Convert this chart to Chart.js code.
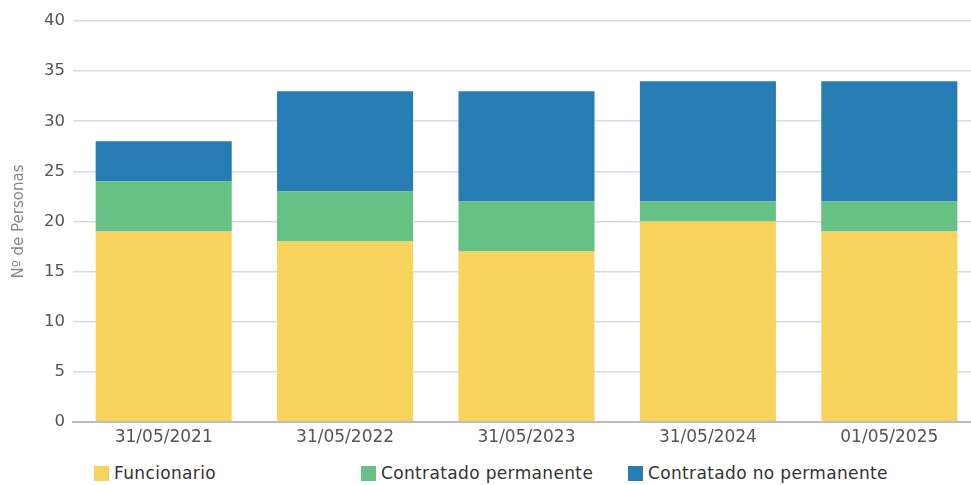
<!DOCTYPE html>
<html>
<head>
<meta charset="utf-8">
<script src="https://cdn.jsdelivr.net/npm/chart.js@4"></script>
<style>
  html, body { margin: 0; padding: 0; background: #fff; overflow: hidden; }
  #wrap { position: relative; width: 981px; height: 485px; }
  #chartBox { position: absolute; left: 0; top: 0; width: 981px; height: 455px; }
  #legend { position: absolute; left: 94px; top: 463px; display: flex; font-family: "DejaVu Sans", sans-serif; font-size: 17px; letter-spacing: 0.35px; color: #333; }
  #legend .item { width: 267px; display: flex; align-items: center; white-space: nowrap; }
  #legend .box { width: 15px; height: 15px; margin-right: 5px; }
</style>
</head>
<body>
<div id="wrap">
  <div id="chartBox"><canvas id="chart"></canvas></div>
  <div id="legend"></div>
</div>
<script>
(function () {
  "use strict";

  var categories = ["31/05/2021", "31/05/2022", "31/05/2023", "31/05/2024", "01/05/2025"];
  var funcionario = [19, 18, 17, 20, 19];
  var contratadoPermanente = [5, 5, 5, 2, 3];
  var contratadoNoPermanente = [4, 10, 11, 12, 12];
  var yTicks = [0, 5, 10, 15, 20, 25, 30, 35, 40];

  var FONT = "'DejaVu Sans', sans-serif";

  function makeSet(label, data, color) {
    return {
      label: label,
      data: data,
      backgroundColor: color,
      borderWidth: 0,
      barPercentage: 0.75,
      categoryPercentage: 1
    };
  }

  var chart = new Chart(document.getElementById("chart"), {
    type: "bar",
    data: {
      labels: categories,
      datasets: [
        makeSet("Funcionario", funcionario, "#f8d35e"),
        makeSet("Contratado permanente", contratadoPermanente, "#66c184"),
        makeSet("Contratado no permanente", contratadoNoPermanente, "#267cb3")
      ]
    },
    options: {
      responsive: true,
      maintainAspectRatio: false,
      animation: false,
      layout: { padding: { top: 21, right: 1, left: 0, bottom: 0 } },
      plugins: {
        legend: { display: false },
        tooltip: { enabled: false }
      },
      scales: {
        x: {
          stacked: true,
          grid: { display: false, drawTicks: false },
          border: { display: true, color: "#bcbcbc", width: 2, z: 1 },
          ticks: { color: "#555", font: { family: FONT, size: 17 }, padding: 5, maxRotation: 0 },
          afterFit: function (axis) { axis.height = 33; }
        },
        y: {
          stacked: true,
          min: 0,
          max: 40,
          afterBuildTicks: function (axis) {
            axis.ticks = yTicks.map(function (v) { return { value: v }; });
          },
          grid: { color: "#d6dce7", lineWidth: 1.6, drawTicks: false },
          border: { display: false },
          ticks: { color: "#555", font: { family: FONT, size: 16.5 }, padding: 8 },
          title: {
            display: true,
            text: "Nº de Personas",
            color: "#888",
            font: { family: FONT, size: 15 },
            padding: { top: 10, bottom: 0 }
          },
          afterFit: function (axis) { axis.width = 73; }
        }
      }
    }
  });

  var legend = document.getElementById("legend");
  chart.data.datasets.forEach(function (ds) {
    var item = document.createElement("div");
    item.className = "item";
    item.innerHTML = '<span class="box" style="background:' + ds.backgroundColor + '"></span><span></span>';
    item.lastChild.textContent = ds.label;
    legend.appendChild(item);
  });
})();
</script>
</body>
</html>
